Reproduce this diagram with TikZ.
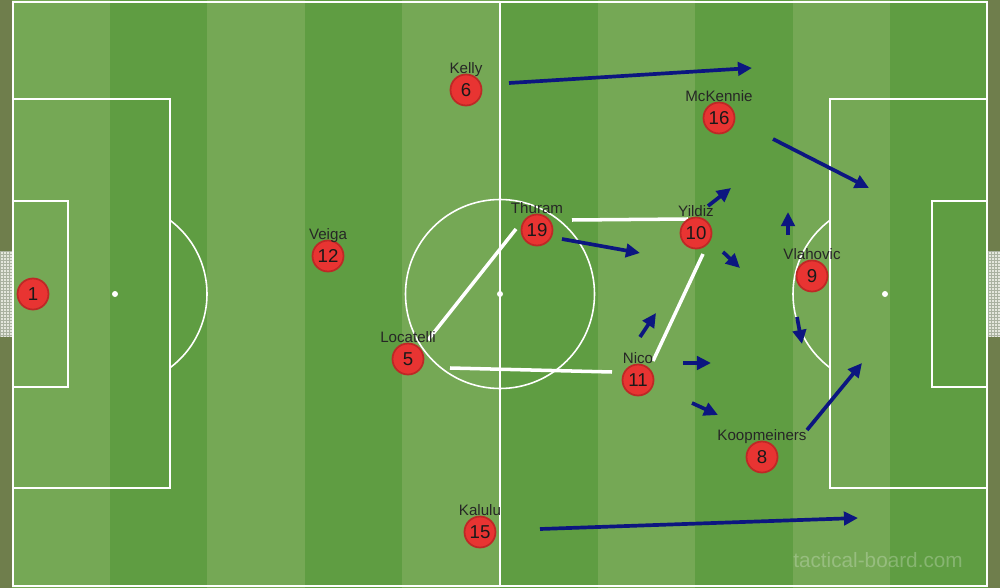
\documentclass[tikz,border=0pt]{standalone}
\usepackage{fontspec}
\setmainfont{Liberation Sans}
\usetikzlibrary{arrows.meta}
\definecolor{turflight}{RGB}{117,168,85}
\definecolor{turfdark}{RGB}{95,157,66}
\definecolor{verge}{RGB}{111,126,76}
\definecolor{netwhite}{RGB}{228,231,220}
\definecolor{netgrey}{RGB}{170,178,160}
\definecolor{shirt}{RGB}{232,52,50}
\definecolor{shirtedge}{RGB}{190,40,38}
\definecolor{runblue}{RGB}{12,22,128}

\begin{document}
\begin{tikzpicture}[x=0.01cm, y=-0.01cm,
    pitchline/.style={white, line width=0.45pt},
    run/.style={runblue, line width=1.05pt, -{Triangle[length=4pt,width=3.8pt]}},
    pass/.style={white, line width=1pt},
    dot/.style={circle, fill=shirt, draw=shirtedge, line width=0.5pt,
        minimum size=0.31cm, inner sep=0pt, label distance=0.06cm,
        text=black!90, font=\fontsize{5.3}{6}\selectfont},
    plabel/.style={anchor=base, text=black!85, font=\fontsize{4.3}{5}\selectfont},
    player/.style={dot, label={[plabel]90:#1}}]
    \useasboundingbox (0,0) rectangle (1000,588);
    \begin{scope} % Grass
        \fill[verge] (0,0) rectangle (1000,588);
        \fill[turflight] (12,0) rectangle (988,588);
        \foreach \x in {109.6,304.8,500,695.2,890.4}
            \fill[turfdark] (\x,0) rectangle +(97.6,588);
    \end{scope}
    \begin{scope} % Goal nets
        \foreach \x in {0,988} {
            \fill[netwhite] (\x,251) rectangle +(12,86);
            \foreach \y in {251,254,...,337}
                \draw[netgrey, line width=0.15pt] (\x,\y) -- +(12,0);
            \foreach \d in {0,3,...,12}
                \draw[netgrey, line width=0.15pt] (\x+\d,251) -- +(0,86);
        }
    \end{scope}
    \begin{scope} % Markings
        \draw[pitchline] (13,2) rectangle (987,586);
        \draw[pitchline] (500,2) -- (500,586);
        \draw[pitchline] (500,294) circle (94.5);
        \draw[pitchline] (13,99) rectangle (170,488);
        \draw[pitchline] (13,201) rectangle (68,387);
        \draw[pitchline] (830,99) rectangle (987,488);
        \draw[pitchline] (932,201) rectangle (987,387);
        \foreach \x in {115,500,885}
            \fill[white] (\x,294) circle (3);
        \begin{scope}
            \clip (170,0) rectangle (400,588);
            \draw[pitchline] (115,294) circle (92);
        \end{scope}
        \begin{scope}
            \clip (600,0) rectangle (830,588);
            \draw[pitchline] (885,294) circle (92);
        \end{scope}
    \end{scope}
    \begin{scope} % Passing lanes
        \foreach \n/\x/\y in {lt1/428/340, lt2/516/229, ty1/572/220, ty2/688/219,
                              ln1/450/368, ln2/612/372, ny1/653/361, ny2/703/254}
            \coordinate (\n) at (\x,\y);
        \foreach \a/\b in {lt1/lt2, ty1/ty2, ln1/ln2, ny1/ny2}
            \draw[pass] (\a) -- (\b);
    \end{scope}
    \begin{scope} % Runs
        \foreach \n/\x/\y in {kr1/509/83, kr2/752/68, mr1/773/139, mr2/869/188,
                              tr1/562/239, tr2/640/253, ya1/708/206, ya2/731/188,
                              yb1/723/252, yb2/740/268, va1/788/235, va2/788/212,
                              vb1/797/317, vb2/802/344, na1/640/337, na2/656/313,
                              nb1/683/363, nb2/711/363, nc1/692/403, nc2/718/415,
                              pr1/807/430, pr2/862/363, lr1/540/529, lr2/858/518}
            \coordinate (\n) at (\x,\y);
        \foreach \a/\b in {kr1/kr2, mr1/mr2, tr1/tr2, ya1/ya2, yb1/yb2, va1/va2,
                           vb1/vb2, na1/na2, nb1/nb2, nc1/nc2, pr1/pr2, lr1/lr2}
            \draw[run] (\a) -- (\b);
    \end{scope}
    \begin{scope} % Players
        \node[dot] (keeper) at (33,294) {1};
        \node[player=Veiga] (veiga) at (328,256) {12};
        \node[player=Kelly] (kelly) at (466,90) {6};
        \node[player=Thuram] (thuram) at (537,230) {19};
        \node[player=Locatelli] (locatelli) at (408,359) {5};
        \node[player=Nico] (nico) at (638,380) {11};
        \node[player=Yildiz] (yildiz) at (696,233) {10};
        \node[player=Vlahovic] (vlahovic) at (812,276) {9};
        \node[player=McKennie] (mckennie) at (719,118) {16};
        \node[player=Koopmeiners] (koop) at (762,457) {8};
        \node[player=Kalulu] (kalulu) at (480,532) {15};
    \end{scope}
    \node[text=white, text opacity=0.25, font=\fontsize{5.9}{7}\selectfont]
        (mark) at (878,560) {tactical-board.com};
\end{tikzpicture}
\end{document}
